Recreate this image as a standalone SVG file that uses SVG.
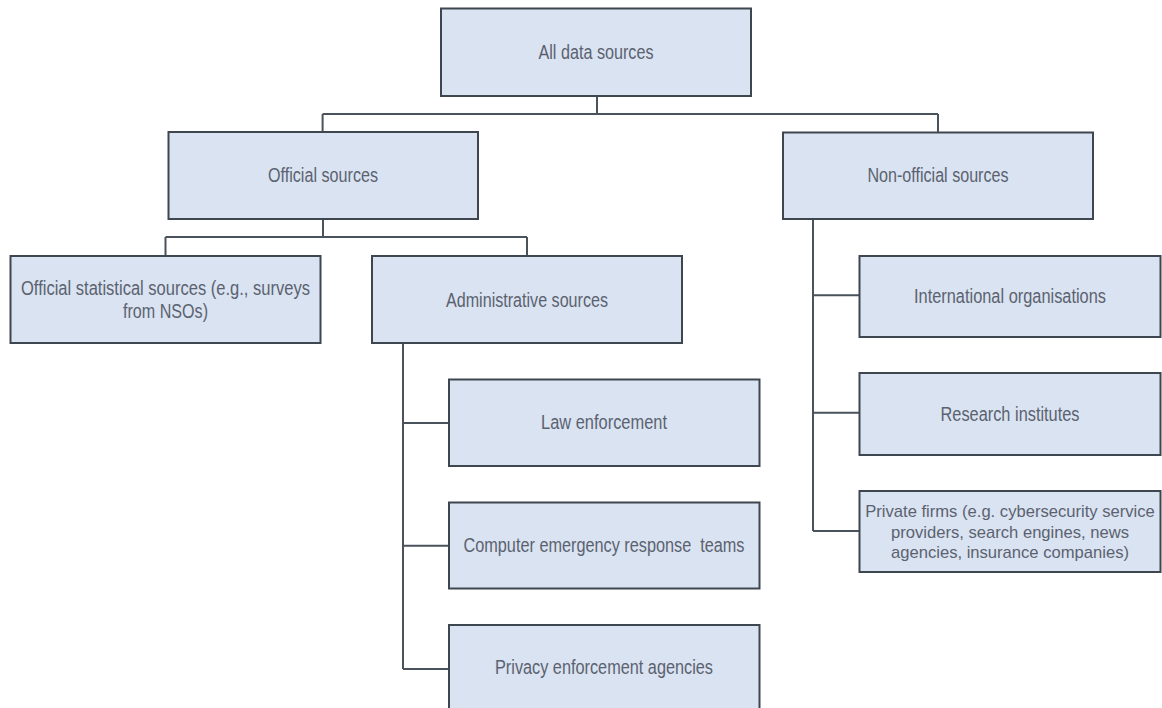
<svg xmlns="http://www.w3.org/2000/svg" width="1162" height="708" viewBox="0 0 1162 708">
<style>
.box{fill:#dae3f1;stroke:#3e4650;stroke-width:2}
.conn{fill:none;stroke:#4a525c;stroke-width:2}
.t{font-family:"Liberation Sans Narrow","Liberation Sans",Arial,sans-serif;font-size:19.5px;fill:#5a6270;text-anchor:middle}
.tr{font-family:"Liberation Sans",Arial,sans-serif;font-size:16.6px;fill:#5a6270;text-anchor:middle}
</style>
<rect width="1162" height="708" fill="#ffffff"/>
<g id="connectors">
<path class="conn" d="M597 96V114M322.6 114H938M322.6 114V132M938 114V132.5"/>
<path class="conn" d="M323 219V237M165.5 237H527M165.5 237V256M527 237V256"/>
<path class="conn" d="M403 343V669M403 423H449M403 545.7H449M403 669H449"/>
<path class="conn" d="M813 219V531M813 295.3H859.5M813 412.7H859.5M813 531H859.5"/>
</g>
<g id="n-all">
<rect class="box" x="441" y="8.5" width="310" height="87.5"/>
<text class="t" x="596" y="59" textLength="115" lengthAdjust="spacingAndGlyphs">All data sources</text>
</g>
<g id="n-official">
<rect class="box" x="168.5" y="132" width="309.5" height="87"/>
<text class="t" x="323" y="182" textLength="110" lengthAdjust="spacingAndGlyphs">Official sources</text>
</g>
<g id="n-nonofficial">
<rect class="box" x="783" y="132.5" width="310" height="86.5"/>
<text class="t" x="938" y="182" textLength="141" lengthAdjust="spacingAndGlyphs">Non-official sources</text>
</g>
<g id="n-offstat">
<rect class="box" x="10.5" y="256" width="310" height="87"/>
<text class="t" x="165.5" y="295" textLength="289" lengthAdjust="spacingAndGlyphs">Official statistical sources (e.g., surveys</text>
<text class="t" x="165.5" y="318" textLength="85" lengthAdjust="spacingAndGlyphs">from NSOs)</text>
</g>
<g id="n-admin">
<rect class="box" x="372" y="256" width="310" height="87"/>
<text class="t" x="527" y="306.5" textLength="162" lengthAdjust="spacingAndGlyphs">Administrative sources</text>
</g>
<g id="n-law">
<rect class="box" x="449" y="379.5" width="310.5" height="86.5"/>
<text class="t" x="604" y="429" textLength="126" lengthAdjust="spacingAndGlyphs">Law enforcement</text>
</g>
<g id="n-cert">
<rect class="box" x="449" y="502.5" width="310.5" height="86"/>
<text class="t" x="604" y="552" textLength="281" lengthAdjust="spacingAndGlyphs" xml:space="preserve">Computer emergency response  teams</text>
</g>
<g id="n-privacy">
<rect class="box" x="449" y="625" width="310.5" height="90"/>
<text class="t" x="604" y="674" textLength="218" lengthAdjust="spacingAndGlyphs">Privacy enforcement agencies</text>
</g>
<g id="n-intl">
<rect class="box" x="859.5" y="256" width="301" height="81"/>
<text class="t" x="1010" y="302.5" textLength="192" lengthAdjust="spacingAndGlyphs">International organisations</text>
</g>
<g id="n-research">
<rect class="box" x="859.5" y="373" width="301" height="82"/>
<text class="t" x="1010" y="420.5" textLength="139" lengthAdjust="spacingAndGlyphs">Research institutes</text>
</g>
<g id="n-private">
<rect class="box" x="859.5" y="491" width="301" height="81"/>
<text class="tr" x="1010" y="517">Private firms (e.g. cybersecurity service</text>
<text class="tr" x="1010" y="537.5">providers, search engines, news</text>
<text class="tr" x="1010" y="558">agencies, insurance companies)</text>
</g>
</svg>
